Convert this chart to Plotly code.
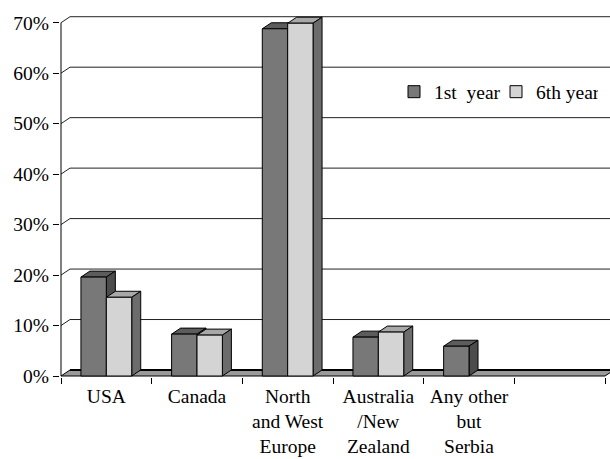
import plotly.graph_objects as go

# ---------------- data ----------------
categories = ["USA", "Canada", "North<br>and West<br>Europe",
              "Australia<br>/New<br>Zealand", "Any other<br>but<br>Serbia", "\u00a0"]
series_names = ["1st\u00a0 year", "6th year"]
first_year = [19.6, 8.3, 68.8, 7.7, 5.9, 0]
sixth_year = [15.6, 8.1, 69.9, 8.7, 0, 0]
y_tickvals = [0, 10, 20, 30, 40, 50, 60, 70]
y_ticktext = ["0%", "10%", "20%", "30%", "40%", "50%", "60%", "70%"]

# ---------------- geometry / style ----------------
W, H = 610, 459
ML, MR, MT, MB = 60, 0, 10, 82
PPX = 90.67          # pixels per category
PPY = 5.047          # pixels per percent
plot_w = W - ML - MR
plot_h = H - MT - MB
xmin = -0.5 - 1 / PPX
xmax = xmin + plot_w / PPX
ymin = -1 / PPY
ymax = ymin + plot_h / PPY
DX = 9 / PPX         # depth offset in data units
DY = 6 / PPY

BAR_W = 0.28
offsets = [-BAR_W, 0.0]
front_cols = ["#787878", "#d4d4d4"]
top_cols = ["#5c5c5c", "#a8a8a8"]
side_cols = ["#4c4c4c", "#6c6c6c"]
FONT = "Liberation Serif, Times New Roman, DejaVu Serif, serif"
FS = 19.5

fig = go.Figure()
for name, vals, off, col in zip(series_names, [first_year, sixth_year], offsets, front_cols):
    fig.add_trace(go.Bar(
        x=categories, y=[v if v else None for v in vals], name=name, offset=off, width=BAR_W,
        marker=dict(color=col, line=dict(color="black", width=1)),
    ))

shapes = []

def poly(pts, fill, lw=1, color="black"):
    path = "M" + " L".join(f"{x},{y}" for x, y in pts) + " Z"
    return dict(type="path", path=path, xref="x", yref="y", fillcolor=fill,
                line=dict(color=color, width=lw), layer="below")

# back-wall gridlines + diagonal connectors
for v in y_tickvals[1:]:
    shapes.append(dict(type="line", xref="x", yref="y", x0=-0.5 + DX, x1=xmax + 1,
                       y0=v + DY, y1=v + DY, line=dict(color="#222222", width=1), layer="below"))
    shapes.append(dict(type="line", xref="x", yref="y", x0=-0.5, x1=-0.5 + DX,
                       y0=v, y1=v + DY, line=dict(color="#222222", width=1), layer="below"))

# floor slab
n = len(categories)
shapes.append(poly([(-0.5, 0), (n - 0.5, 0), (n - 0.5 + DX, DY), (-0.5 + DX, DY)], "#9a9a9a"))
shapes.append(dict(type="line", xref="x", yref="y", x0=-0.5 + DX, x1=n - 0.5 + DX,
                   y0=DY, y1=DY, line=dict(color="black", width=2), layer="below"))
# front-left vertical axis line
shapes.append(dict(type="line", xref="x", yref="y", x0=-0.5, x1=-0.5, y0=0, y1=70,
                   line=dict(color="black", width=1), layer="below"))

# 3-D top and side faces of the bars
for i in range(n):
    for vals, off, tc, sc in zip([first_year, sixth_year], offsets, top_cols, side_cols):
        v = vals[i]
        if not v:
            continue
        xl = i + off
        xr = xl + BAR_W
        shapes.append(poly([(xl, v), (xr, v), (xr + DX, v + DY), (xl + DX, v + DY)], tc))
        shapes.append(poly([(xr, 0), (xr, v), (xr + DX, v + DY), (xr + DX, DY)], sc))

fig.update_layout(
    width=W, height=H,
    margin=dict(l=ML, r=MR, t=MT, b=MB, autoexpand=False),
    paper_bgcolor="white", plot_bgcolor="white",
    barmode="overlay",
    shapes=shapes,
    font=dict(family=FONT, size=FS, color="black"),
    showlegend=True,
    legend=dict(orientation="h", x=(394 - ML) / plot_w, xanchor="left",
                y=(H - MB - 92) / plot_h, yanchor="middle", entrywidth=57,
                bgcolor="rgba(0,0,0,0)", font=dict(family=FONT, size=FS),
                traceorder="normal"),
    xaxis=dict(type="category", categoryorder="array", categoryarray=categories,
               range=[xmin, xmax], tickson="boundaries", ticks="outside", ticklen=6,
               tickcolor="black", showgrid=False, zeroline=False, showline=False,
               tickangle=0, automargin=False, ticklabelstandoff=5,
               tickfont=dict(family=FONT, size=FS), fixedrange=True),
    yaxis=dict(range=[ymin, ymax], tickvals=y_tickvals, ticktext=y_ticktext,
               ticks="outside", ticklen=6, tickcolor="black", showgrid=False,
               zeroline=False, showline=False, automargin=False,
               tickfont=dict(family=FONT, size=FS), fixedrange=True),
)

fig.write_html("out.html")
